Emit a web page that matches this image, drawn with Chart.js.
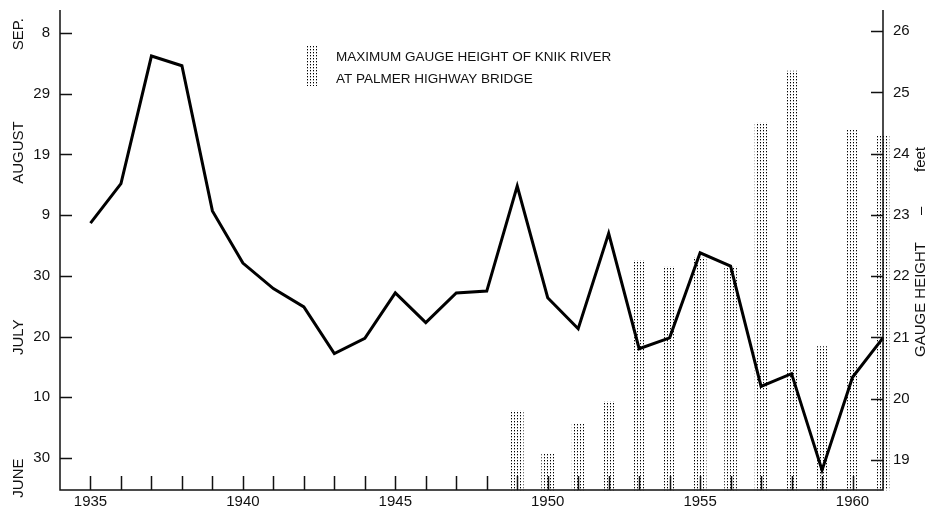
<!DOCTYPE html>
<html>
<head>
<meta charset="utf-8">
<script src="https://cdn.jsdelivr.net/npm/chart.js@4.4.1/dist/chart.umd.min.js"></script>
<style>
  html, body { margin: 0; padding: 0; background: #fff; }
  #wrap { width: 934px; height: 513px; }
</style>
</head>
<body>
<div id="wrap"><canvas id="c" width="934" height="513"></canvas></div>
<script>
// breakup date of the ice, in days after June 30
const years = [1935, 1936, 1937, 1938, 1939, 1940, 1941, 1942, 1943, 1944, 1945, 1946, 1947, 1948,
  1949, 1950, 1951, 1952, 1953, 1954, 1955, 1956, 1957, 1958, 1959, 1960, 1961]
const breakupDay = [38.7, 45.2, 66.2, 64.6, 40.7, 32.1, 27.9, 24.9, 17.2, 19.7, 27.2, 22.3, 27.2, 27.5,
  44.8, 26.4, 21.3, 37.0, 18.0, 19.8, 33.8, 31.6, 11.8, 13.9, -2.0, 13.3, 19.8]

// maximum gauge height, feet
const gaugeYears = [1949, 1950, 1951, 1952, 1953, 1954, 1955, 1956, 1957, 1958, 1959, 1960, 1961]
const gaugeHeight = [19.8, 19.1, 19.6, 19.95, 22.25, 22.15, 22.3, 22.15, 24.5, 25.35, 20.85, 24.4, 24.3]

const xLabelYears = [1935, 1940, 1945, 1950, 1955, 1960]
const dayTicks = [0, 10, 20, 30, 40, 50, 60, 70]
const dayLabels = ['30', '10', '20', '30', '9', '19', '29', '8']
const monthNames = ['SEP.', 'AUGUST', 'JULY', 'JUNE']
const monthDay = [69.8, 50.3, 19.9, -3.3]
const gaugeTicks = [19, 20, 21, 22, 23, 24, 25, 26]
const legendLines = ['MAXIMUM GAUGE HEIGHT OF KNIK RIVER', 'AT PALMER HIGHWAY BRIDGE']

const FONT = '"Liberation Sans", Arial, Helvetica, sans-serif'
const INK = '#111'

const canvas = document.getElementById('c')
const ctx = canvas.getContext('2d')

function dotPattern() {
  const t = document.createElement('canvas')
  t.width = 3
  t.height = 3
  const g = t.getContext('2d')
  g.fillStyle = '#000'
  g.fillRect(1, 1, 1, 1)
  g.fillStyle = '#aaa'
  g.fillRect(1, 2, 1, 1)
  return ctx.createPattern(t, 'repeat')
}
const dots = dotPattern()

const frame = {
  id: 'frame',
  afterDraw(chart) {
    const c = chart.ctx
    const a = chart.chartArea
    const sx = chart.scales.x
    const sy = chart.scales.y
    const s2 = chart.scales.y2
    const top = 10
    c.save()
    c.strokeStyle = INK
    c.lineWidth = 1.5
    // axis lines
    c.beginPath()
    c.moveTo(a.left, top)
    c.lineTo(a.left, a.bottom)
    c.lineTo(a.right, a.bottom)
    c.lineTo(a.right, top)
    c.stroke()
    // inward ticks
    c.beginPath()
    years.slice(0, -1).forEach(y => {
      const px = Math.round(sx.getPixelForValue(y)) + 0.5
      c.moveTo(px, a.bottom)
      c.lineTo(px, a.bottom - 14)
    })
    dayTicks.forEach(d => {
      const py = Math.round(sy.getPixelForValue(d)) + 0.5
      c.moveTo(a.left, py)
      c.lineTo(a.left + 12, py)
    })
    gaugeTicks.forEach(g => {
      const py = Math.round(s2.getPixelForValue(g)) + 0.5
      c.moveTo(a.right, py)
      c.lineTo(a.right - 12, py)
    })
    c.stroke()

    // month names, rotated
    c.fillStyle = INK
    c.font = '15px ' + FONT
    c.textAlign = 'center'
    c.textBaseline = 'middle'
    monthNames.forEach((m, i) => {
      c.save()
      c.translate(19, sy.getPixelForValue(monthDay[i]))
      c.rotate(-Math.PI / 2)
      c.fillText(m, 0, 0)
      c.restore()
    })

    // right axis title
    c.save()
    c.translate(921, 357)
    c.rotate(-Math.PI / 2)
    c.textAlign = 'left'
    c.fillText('GAUGE HEIGHT', 0, 0)
    c.fillText('–', 142, 0)
    c.fillText('feet', 185, 0)
    c.restore()

    // legend
    c.fillStyle = dots
    c.fillRect(306, 46, 11, 40)
    c.fillStyle = INK
    c.font = '13.5px ' + FONT
    c.textAlign = 'left'
    legendLines.forEach((t, i) => c.fillText(t, 336, 57 + i * 22))
    c.restore()
  }
}

new Chart(ctx, {
  data: {
    datasets: [
      {
        type: 'line',
        label: 'breakup',
        data: years.map((y, i) => ({ x: y, y: breakupDay[i] })),
        yAxisID: 'y',
        borderColor: '#000',
        borderWidth: 3,
        borderJoinStyle: 'miter',
        pointRadius: 0,
        tension: 0,
        clip: false,
        order: 0
      },
      {
        type: 'bar',
        label: 'gauge',
        data: gaugeYears.map((y, i) => ({ x: y, y: gaugeHeight[i] })),
        yAxisID: 'y2',
        backgroundColor: dots,
        borderWidth: 0,
        barThickness: 12,
        base: 18.51,
        clip: false,
        order: 1
      }
    ]
  },
  options: {
    responsive: false,
    animation: false,
    layout: { padding: { top: 1, left: 0, right: 0, bottom: 0 } },
    plugins: { legend: { display: false }, tooltip: { enabled: false } },
    scales: {
      x: {
        type: 'linear',
        min: 1934,
        max: 1961,
        offset: false,
        grid: { display: false, drawTicks: false, offset: false },
        border: { display: false },
        afterBuildTicks: s => { s.ticks = xLabelYears.map(v => ({ value: v })) },
        ticks: {
          color: INK, font: { family: FONT, size: 15 }, padding: 3,
          maxRotation: 0, autoSkip: false, callback: v => String(v)
        },
        afterFit: s => { s.height = 23 }
      },
      y: {
        position: 'left',
        min: -5.26,
        max: 72.3,
        grid: { display: false, drawTicks: false },
        border: { display: false },
        afterBuildTicks: s => { s.ticks = dayTicks.map(v => ({ value: v })) },
        ticks: {
          color: INK, font: { family: FONT, size: 15 }, padding: 10, autoSkip: false,
          callback: v => dayLabels[dayTicks.indexOf(v)]
        },
        afterFit: s => { s.width = 60 }
      },
      y2: {
        position: 'right',
        min: 18.51,
        max: 26.2,
        grid: { display: false, drawTicks: false },
        border: { display: false },
        afterBuildTicks: s => { s.ticks = gaugeTicks.map(v => ({ value: v })) },
        ticks: {
          color: INK, font: { family: FONT, size: 15 }, padding: 10, autoSkip: false,
          callback: v => String(v)
        },
        afterFit: s => { s.width = 51 }
      }
    }
  },
  plugins: [frame]
})
</script>
</body>
</html>
